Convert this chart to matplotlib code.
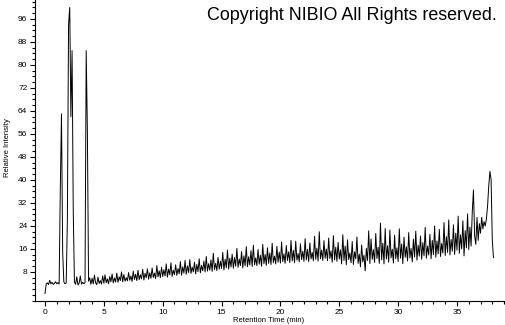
import numpy as np
import matplotlib
matplotlib.use("Agg")
import matplotlib.pyplot as plt
from matplotlib.ticker import MultipleLocator

# --------------------------
# Chromatogram data (0.1 min per scan)
# --------------------------
min_00 = [0.5, 3.8, 4.2, 3.6, 5.1, 3.9, 4.4, 3.7, 4.0, 4.6]
min_01 = [3.9, 4.3, 3.8, 37.0, 63.0, 15.0, 4.5, 3.9, 4.2, 26.0]
min_02 = [94.0, 100.0, 62.0, 85.0, 29.0, 4.5, 3.7, 6.3, 3.5, 4.1]
min_03 = [6.6, 3.8, 4.4, 3.9, 4.3, 85.0, 57.0, 4.8, 6.0, 3.7]
min_04 = [5.8, 3.9, 6.9, 4.2, 3.6, 6.2, 4.0, 5.0, 3.8, 6.6]
min_05 = [4.1, 7.0, 4.3, 5.6, 3.9, 6.4, 4.6, 7.3, 4.2, 5.9]
min_06 = [4.5, 7.6, 4.4, 6.3, 5.0, 8.0, 4.6, 7.1, 4.8, 6.0]
min_07 = [4.9, 7.8, 5.1, 6.6, 4.7, 8.3, 5.4, 7.2, 5.0, 8.6]
min_08 = [5.3, 7.0, 5.6, 8.9, 5.2, 7.5, 6.0, 9.1, 5.5, 7.7]
min_09 = [5.8, 9.4, 6.1, 7.6, 5.7, 10.2, 6.3, 8.4, 6.0, 9.6]
min_10 = [6.4, 8.8, 6.6, 10.8, 6.2, 9.0, 7.0, 11.2, 6.5, 8.6]
min_11 = [7.1, 10.5, 6.8, 9.2, 7.4, 11.6, 6.9, 9.8, 7.6, 12.0]
min_12 = [7.2, 10.1, 7.8, 12.3, 7.5, 9.7, 8.0, 11.4, 7.3, 10.6]
min_13 = [8.1, 12.6, 7.7, 10.3, 8.4, 11.8, 8.0, 13.4, 8.3, 10.9]
min_14 = [8.6, 12.2, 8.2, 14.5, 8.8, 11.0, 8.5, 13.1, 9.0, 11.7]
min_15 = [9.2, 14.8, 8.7, 12.4, 9.5, 15.6, 9.0, 12.8, 9.7, 14.2]
min_16 = [9.3, 13.0, 10.0, 16.2, 9.6, 12.5, 10.2, 15.1, 9.4, 13.6]
min_17 = [10.1, 16.8, 9.8, 13.3, 10.4, 15.4, 9.9, 17.3, 10.5, 12.9]
min_18 = [10.2, 15.8, 10.7, 13.8, 10.0, 17.6, 10.9, 14.1, 10.3, 16.4]
min_19 = [11.0, 14.6, 10.6, 18.0, 11.2, 13.5, 10.8, 16.9, 11.4, 14.9]
min_20 = [11.1, 18.4, 11.6, 14.3, 11.0, 17.2, 12.0, 15.0, 11.3, 19.0]
min_21 = [11.8, 15.5, 11.2, 18.7, 12.1, 14.4, 11.5, 17.8, 12.3, 15.2]
min_22 = [11.7, 19.6, 12.2, 15.9, 11.6, 18.1, 12.5, 14.8, 11.9, 20.4]
min_23 = [12.4, 16.3, 11.8, 22.0, 12.6, 15.6, 12.0, 18.9, 12.8, 16.0]
min_24 = [11.9, 19.8, 12.7, 15.3, 11.4, 20.6, 12.2, 16.6, 11.7, 18.3]
min_25 = [12.5, 15.7, 10.8, 21.0, 12.0, 17.0, 10.5, 19.2, 12.3, 14.6]
min_26 = [11.2, 18.6, 10.6, 15.0, 12.6, 20.2, 11.0, 14.2, 9.8, 17.4]
min_27 = [11.5, 13.8, 8.4, 16.2, 12.0, 22.3, 10.9, 19.5, 12.4, 15.8]
min_28 = [11.3, 21.4, 12.7, 16.6, 11.0, 25.0, 12.2, 18.0, 10.8, 23.1]
min_29 = [12.5, 17.1, 11.4, 22.6, 12.9, 15.9, 11.1, 20.8, 12.6, 16.4]
min_30 = [11.6, 23.0, 12.8, 17.7, 10.9, 20.1, 13.1, 16.8, 11.8, 21.7]
min_31 = [12.9, 16.2, 11.5, 19.4, 13.2, 22.2, 12.1, 17.3, 13.5, 20.5]
min_32 = [12.4, 18.2, 13.6, 23.5, 12.8, 17.0, 13.9, 21.1, 12.6, 19.0]
min_33 = [14.0, 24.0, 13.1, 18.8, 14.3, 22.8, 13.4, 17.9, 14.6, 25.2]
min_34 = [13.7, 20.3, 14.8, 26.1, 13.9, 19.3, 15.2, 24.4, 14.1, 21.5]
min_35 = [15.6, 27.4, 14.5, 20.9, 16.0, 25.8, 13.6, 22.4, 16.4, 28.2]
min_36 = [15.8, 23.6, 17.0, 29.0, 36.5, 20.5, 17.6, 27.0, 19.0, 24.8]
min_37 = [21.5, 27.0, 23.0, 25.5, 24.0, 26.5, 31.0, 38.0, 43.0, 40.0]
min_38 = [19.0, 13.0]

intensity = np.array(
    min_00 + min_01 + min_02 + min_03 + min_04 + min_05 + min_06 + min_07
    + min_08 + min_09 + min_10 + min_11 + min_12 + min_13 + min_14 + min_15
    + min_16 + min_17 + min_18 + min_19 + min_20 + min_21 + min_22 + min_23
    + min_24 + min_25 + min_26 + min_27 + min_28 + min_29 + min_30 + min_31
    + min_32 + min_33 + min_34 + min_35 + min_36 + min_37 + min_38
)
time = np.arange(len(intensity)) * 0.1

x_ticks = [0, 5, 10, 15, 20, 25, 30, 35]
y_ticks = [8, 16, 24, 32, 40, 48, 56, 64, 72, 80, 88, 96]

# --------------------------
# Plot
# --------------------------
plt.rcParams["font.family"] = ["Liberation Sans", "DejaVu Sans"]

fig = plt.figure(figsize=(5.05, 3.25), dpi=100)
ax = fig.add_axes([35 / 505, 24 / 325, 1 - 35 / 505, 1 - 24 / 325])

ax.plot(time, intensity, color="black", lw=0.7)

ax.set_xlim(-0.85, 39.08)
ax.set_ylim(-2.1, 102.6)
ax.set_xticks(x_ticks)
ax.set_yticks(y_ticks)
ax.xaxis.set_minor_locator(MultipleLocator(1))
ax.yaxis.set_minor_locator(MultipleLocator(2))
ax.tick_params(which="both", direction="out", width=0.8, labelsize=6, pad=2)
ax.tick_params(which="major", length=3.5)
ax.tick_params(which="minor", length=2.5)

for side in ["top", "right"]:
    ax.spines[side].set_visible(False)
for side in ["left", "bottom"]:
    ax.spines[side].set_linewidth(0.8)

fig.text(269 / 505, 1 - 320 / 325, "Retention Time (min)", fontsize=5.5,
         ha="center", va="center")
fig.text(8 / 505, 1 - 148 / 325, "Relative Intensity", fontsize=5.5,
         rotation=90, ha="center", va="center")
fig.text(207 / 505, 1 - 20 / 325, "Copyright NIBIO All Rights reserved.",
         fontsize=12.9, ha="left", va="baseline")

fig.savefig("out.png", dpi=100)
